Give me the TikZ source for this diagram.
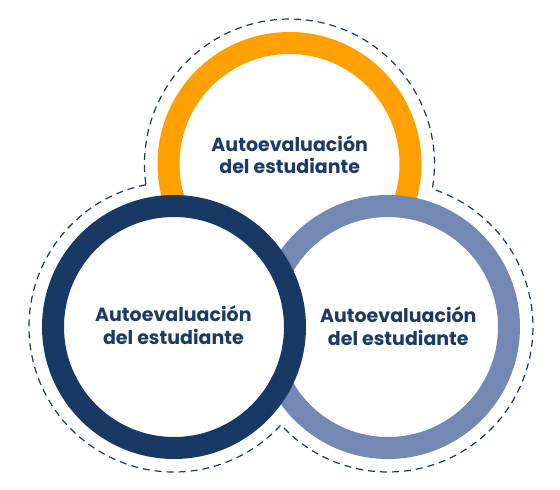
\documentclass[tikz,border=0pt]{standalone}
\usepackage{fontspec}
\newfontfamily\popfont{Poppins}[UprightFont=* SemiBold, BoldFont=* Bold]
\definecolor{cOrange}{HTML}{FFA000}
\definecolor{cNavy}{HTML}{183963}
\definecolor{cLight}{HTML}{7389B3}
\definecolor{cText}{HTML}{1B3A64}
\tikzset{
  ring/.style={line width=22pt, fill=white},
  lbl/.style={font=\popfont\bfseries\fontsize{19}{23}\selectfont, text=cText, anchor=base, inner sep=0pt},
  outline/.style={draw=cNavy, line width=1.2pt, dash pattern=on 7pt off 5pt}
}
\begin{document}
\begin{tikzpicture}[x=1pt,y=1pt]
\useasboundingbox (0,0) rectangle (560,490);
\coordinate (O) at (289.5,326);
\coordinate (N) at (174,163);
\coordinate (L) at (388,163);
% dashed union outline
\draw[outline] (N) ++(101.14:145) coordinate (pNO)
  arc[start angle=101.14, end angle=317.55, radius=145] coordinate (pNL)
  arc[start angle=222.45, end angle=432.2, radius=145] coordinate (pOL)
  arc[start angle=-9.9, end angle=188.22, radius=145];
% rings
\draw[ring, draw=cOrange] (O) circle[radius=121];
\draw[ring, draw=cLight] (L) circle[radius=121];
\draw[ring, draw=cNavy] (N) circle[radius=121];
% labels
\node[lbl] (o1) at (289.7,338.3) {Autoevaluación};
\node[lbl] (o2) at (289.7,316) {del estudiante};
\node[lbl] (n1) at (173.4,168.3) {Autoevaluación};
\node[lbl] (n2) at (173.4,145) {del estudiante};
\node[lbl] (l1) at (398.3,167.3) {Autoevaluación};
\node[lbl] (l2) at (398.3,144.3) {del estudiante};
\end{tikzpicture}
\end{document}
